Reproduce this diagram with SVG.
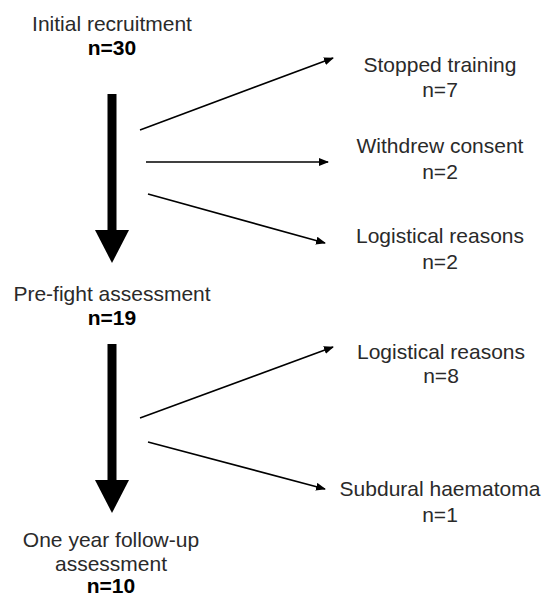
<svg xmlns="http://www.w3.org/2000/svg" width="543" height="598" viewBox="0 0 543 598">
<style>
.t{font-family:"Liberation Sans",Arial,sans-serif;font-size:21px;fill:#2a2a2a;text-anchor:middle}
.b{font-weight:bold;fill:#000}
.thin{stroke:#000;stroke-width:1.6;fill:none;marker-end:url(#ah)}
.big{fill:#000}
</style>
<defs>
<marker id="ah" viewBox="0 0 10 8" refX="9" refY="4" markerWidth="10" markerHeight="8" markerUnits="userSpaceOnUse" orient="auto">
<path d="M0,0 L10,4 L0,8 Z" fill="#000"/>
</marker>
</defs>
<rect width="543" height="598" fill="#fff"/>
<g id="n-initial">
<text class="t" x="112" y="31">Initial recruitment</text>
<text class="t b" x="112" y="55">n=30</text>
</g>
<g id="n-stopped">
<text class="t" x="440" y="72">Stopped training</text>
<text class="t" x="440" y="97">n=7</text>
</g>
<g id="n-withdrew">
<text class="t" x="440" y="153">Withdrew consent</text>
<text class="t" x="440" y="179">n=2</text>
</g>
<g id="n-logistical1">
<text class="t" x="440" y="243">Logistical reasons</text>
<text class="t" x="440" y="269">n=2</text>
</g>
<g id="n-prefight">
<text class="t" x="112" y="301">Pre-fight assessment</text>
<text class="t b" x="112" y="325">n=19</text>
</g>
<g id="n-logistical2">
<text class="t" x="441" y="359">Logistical reasons</text>
<text class="t" x="441" y="383">n=8</text>
</g>
<g id="n-subdural">
<text class="t" x="440" y="496">Subdural haematoma</text>
<text class="t" x="440" y="522">n=1</text>
</g>
<g id="n-followup">
<text class="t" x="111" y="547">One year follow-up</text>
<text class="t" x="111" y="571">assessment</text>
<text class="t b" x="111" y="593">n=10</text>
</g>
<g id="connectors">
<rect class="big" x="107.5" y="94" width="9" height="137"/>
<polygon class="big" points="95,230 129,230 112,263"/>
<rect class="big" x="107.5" y="344" width="9" height="137"/>
<polygon class="big" points="95,480 129,480 112,513"/>
<line class="thin" x1="140" y1="130" x2="333" y2="58"/>
<line class="thin" x1="146" y1="162" x2="328" y2="162"/>
<line class="thin" x1="148" y1="194" x2="325" y2="243"/>
<line class="thin" x1="140" y1="418" x2="333" y2="347"/>
<line class="thin" x1="148" y1="442" x2="325" y2="489"/>
</g>
</svg>
